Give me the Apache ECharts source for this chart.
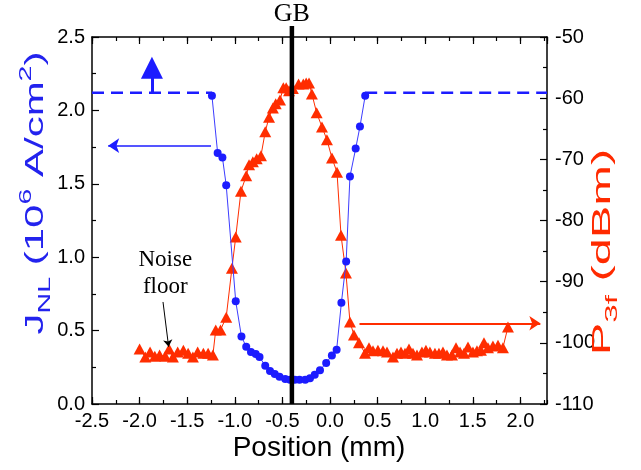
<!DOCTYPE html>
<html>
<head>
<meta charset="utf-8">
<script src="https://cdn.jsdelivr.net/npm/echarts@6/dist/echarts.min.js"></script>
<style>
  html, body { margin: 0; padding: 0; background: #ffffff; }
  #chart { width: 641px; height: 470px; }
</style>
</head>
<body>
<div id="chart"></div>
<script>
// Nonlinear current density J_NL (left axis, 10^6 A/cm^2) and third-harmonic
// power P_3f (right axis, dBm) measured across a grain boundary (GB).

// J_NL scan: position (mm) and current density
const jPositions = [
  -1.24, -1.18, -1.13, -1.09, -0.99, -0.93, -0.88, -0.83, -0.78, -0.74,
  -0.68, -0.63, -0.58, -0.53, -0.47, -0.42, -0.37, -0.32, -0.26, -0.21,
  -0.16, -0.105, -0.04, 0.02, 0.07, 0.12, 0.17, 0.21, 0.27, 0.315, 0.37
];
const jValues = [
  2.10, 1.71, 1.68, 1.49, 0.70, 0.46, 0.39, 0.355, 0.34, 0.32,
  0.26, 0.225, 0.205, 0.185, 0.17, 0.165, 0.165, 0.165, 0.165, 0.175,
  0.20, 0.23, 0.28, 0.33, 0.37, 0.69, 0.97, 1.55, 1.74, 1.89, 2.10
];

// P_3f scan: position (mm) and power (dBm)
const pPositions = [
  -2.00, -1.94, -1.89, -1.84, -1.79, -1.73, -1.69, -1.65, -1.60, -1.54,
  -1.49, -1.44, -1.39, -1.33, -1.28, -1.23, -1.20, -1.15, -1.09, -1.03,
  -0.99, -0.935, -0.88, -0.85, -0.81, -0.77, -0.725, -0.68, -0.64, -0.60,
  -0.57, -0.525, -0.49, -0.46, -0.43, -0.39, -0.33, -0.28, -0.25, -0.22,
  -0.19, -0.14, -0.084, -0.032, 0.021, 0.074, 0.116, 0.168, 0.21, 0.252,
  0.305, 0.368, 0.41, 0.452, 0.504, 0.557, 0.599, 0.662, 0.704, 0.746,
  0.788, 0.83, 0.872, 0.914, 0.966, 1.008, 1.05, 1.103, 1.145, 1.187,
  1.229, 1.282, 1.324, 1.366, 1.408, 1.45, 1.502, 1.544, 1.586, 1.618,
  1.66, 1.712, 1.765, 1.817, 1.87
];
const pValues = [
  -101.0, -102.3, -101.5, -102.2, -102.0, -102.2, -101.0, -102.3, -101.5, -101.2,
  -101.7, -102.3, -101.5, -101.7, -101.7, -102.0, -97.9, -97.9, -95.8, -87.8,
  -82.7, -75.2, -72.7, -70.9, -70.4, -69.9, -69.4, -65.5, -63.1, -61.6,
  -60.9, -60.3, -58.3, -58.3, -58.8, -58.4, -57.7, -57.7, -57.5, -57.5,
  -59.3, -62.4, -64.7, -66.8, -69.8, -72.1, -82.4, -88.6, -96.6, -98.7,
  -100.0, -101.7, -100.8, -101.3, -101.2, -101.3, -101.5, -102.3, -101.7, -101.5,
  -101.7, -101.0, -101.7, -102.0, -101.5, -101.2, -101.5, -101.7, -101.7, -101.5,
  -102.0, -102.0, -100.8, -101.5, -101.7, -100.7, -101.5, -101.3, -101.2, -100.0,
  -100.8, -100.5, -100.4, -100.8, -97.4
];

// Axis ranges
const xRange = [-2.5, 2.28];
const jRange = [0, 2.5];
const pRange = [-110, -50];

// Annotation values
const gbPosition = -0.4;          // grain boundary location (mm)
const jCeiling = 2.12;            // lower bound of J_NL outside the scan range
const jCeilingEnds = [-1.24, 0.37];
const upArrowX = -1.87;
const upArrowTop = 2.29;
const jArrow = { from: -1.25, to: -2.33, level: 1.76 };
const pArrow = { from: 0.31, to: 2.21, level: -96.8 };
const noiseArrow = { from: [-1.754, 0.695], to: [-1.695, 0.39] };
const noiseLabelAt = [-1.73, 0.886];

const BLUE = '#1c1cff';
const BLUE_LINE = '#3c3cff';
const RED = '#ff2d00';
const SANS = '"Liberation Sans", Arial, Helvetica, sans-serif';
const SERIF = '"Liberation Serif", "Times New Roman", serif';

const pairs = (xs, ys) => xs.map((x, i) => [x, ys[i]]);

function xAxisDef(position, step, tickLen, withLine, withLabels) {
  return {
    type: 'value', position: position, min: xRange[0], max: xRange[1], interval: step,
    axisLine: { show: withLine, onZero: false, lineStyle: { color: '#000', width: 1.5 } },
    axisTick: { show: true, inside: true, length: tickLen, lineStyle: { color: '#000', width: 1.2 } },
    axisLabel: {
      show: withLabels, showMaxLabel: false, margin: 7,
      fontFamily: SANS, fontSize: 20, color: '#000',
      formatter: v => v.toFixed(1)
    },
    splitLine: { show: false }
  };
}

function yAxisDef(position, range, step, digits, margin) {
  return {
    type: 'value', position: position, min: range[0], max: range[1], interval: step,
    axisLine: { show: true, onZero: false, lineStyle: { color: '#000', width: 1.5 } },
    axisTick: { show: true, inside: true, length: 7, lineStyle: { color: '#000', width: 1.2 } },
    minorTick: { show: true, splitNumber: 2, length: 4, lineStyle: { color: '#000', width: 1.2 } },
    axisLabel: {
      margin: margin, fontFamily: SANS, fontSize: 20, color: '#000',
      formatter: v => v.toFixed(digits)
    },
    splitLine: { show: false }
  };
}

function arrowSeries(yAxisIndex, lines) {
  return {
    type: 'line', data: [], yAxisIndex: yAxisIndex, silent: true,
    markLine: {
      silent: true, animation: false,
      label: { show: false },
      emphasis: { disabled: true },
      data: lines
    }
  };
}

const option = {
  animation: false,
  backgroundColor: '#ffffff',
  grid: { left: 92, right: 94, top: 37, bottom: 66, containLabel: false, outerBoundsMode: 'none' },
  xAxis: [
    xAxisDef('bottom', 0.5, 7, true, true),
    xAxisDef('bottom', 0.25, 4, false, false),
    xAxisDef('top', 0.5, 7, true, false),
    xAxisDef('top', 0.25, 4, false, false)
  ],
  yAxis: [
    yAxisDef('left', jRange, 0.5, 1, 7),
    yAxisDef('right', pRange, 10, 0, 8)
  ],
  series: [
    {
      name: 'P3f', type: 'line', yAxisIndex: 1, z: 2,
      data: pairs(pPositions, pValues),
      symbol: 'triangle', symbolSize: [12, 11],
      itemStyle: { color: RED },
      lineStyle: { color: RED, width: 1 }
    },
    {
      name: 'JNL', type: 'line', yAxisIndex: 0, z: 3,
      data: pairs(jPositions, jValues),
      symbol: 'circle', symbolSize: 8,
      itemStyle: { color: BLUE },
      lineStyle: { color: BLUE_LINE, width: 1 }
    },
    {
      type: 'line', z: 3, symbol: 'none',
      data: [[xRange[0], jCeiling], [jCeilingEnds[0], jCeiling]],
      lineStyle: { color: BLUE, width: 2.5, type: [12, 7] }
    },
    {
      type: 'line', z: 3, symbol: 'none',
      data: [[jCeilingEnds[1], jCeiling], [xRange[1], jCeiling]],
      lineStyle: { color: BLUE, width: 2.5, type: [12, 7] }
    },
    // upward arrow on the J_NL ceiling
    arrowSeries(0, [[
      { coord: [upArrowX, jCeiling], symbol: 'none',
        lineStyle: { color: BLUE, width: 3, type: 'solid' } },
      { coord: [upArrowX, upArrowTop], symbol: 'triangle', symbolSize: 22 }
    ]]),
    // arrow pointing to the J_NL axis
    arrowSeries(0, [[
      { coord: [jArrow.from, jArrow.level], symbol: 'none',
        lineStyle: { color: BLUE, width: 1.6, type: 'solid' } },
      { coord: [jArrow.to, jArrow.level], symbol: 'arrow', symbolSize: 11 }
    ]]),
    // arrow pointing to the P_3f axis
    arrowSeries(1, [[
      { coord: [pArrow.from, pArrow.level], symbol: 'none',
        lineStyle: { color: RED, width: 2, type: 'solid' } },
      { coord: [pArrow.to, pArrow.level], symbol: 'arrow', symbolSize: 11 }
    ]]),
    // noise floor pointer
    arrowSeries(0, [[
      { coord: noiseArrow.from, symbol: 'none',
        lineStyle: { color: '#000', width: 1, type: 'solid' } },
      { coord: noiseArrow.to, symbol: 'arrow', symbolSize: 7 }
    ]])
  ]
};

const chart = echarts.init(document.getElementById('chart'), null, { renderer: 'canvas', width: 641, height: 470 });
chart.setOption(option);

const toPx = pt => chart.convertToPixel({ gridIndex: 0 }, pt);
const gbTopPx = toPx([gbPosition, jRange[1]]);
const gbBottomPx = toPx([gbPosition, jRange[0]]);
const noisePx = toPx(noiseLabelAt);

const titleRich = (size, subSize) => ({
  b: { fontSize: size, fontFamily: SANS, lineHeight: 36 },
  sub: { fontSize: subSize, fontFamily: SANS, lineHeight: subSize, verticalAlign: 'bottom' },
  sup: { fontSize: subSize, fontFamily: SANS, lineHeight: subSize, verticalAlign: 'top' }
});

chart.setOption({
  graphic: [
    {
      type: 'line', z: 100, silent: true,
      shape: { x1: gbTopPx[0], y1: gbTopPx[1] - 11, x2: gbBottomPx[0], y2: gbBottomPx[1] },
      style: { stroke: '#000', lineWidth: 4.5 }
    },
    {
      type: 'text', z: 100, silent: true, x: gbTopPx[0], y: 14,
      style: { text: 'GB', font: '26px ' + SERIF, fill: '#000', align: 'center', verticalAlign: 'middle' }
    },
    {
      type: 'text', z: 100, silent: true, x: noisePx[0], y: noisePx[1],
      style: {
        text: 'Noise\nfloor', font: '23px ' + SERIF, lineHeight: 27,
        fill: '#000', align: 'center', verticalAlign: 'middle'
      }
    },
    {
      type: 'text', z: 100, silent: true, x: 319, y: 448,
      style: { text: 'Position (mm)', font: '28px ' + SANS, fill: '#000', align: 'center', verticalAlign: 'middle' }
    },
    {
      type: 'text', z: 100, silent: true, x: 36, y: 193, rotation: Math.PI / 2, scaleX: 1.68,
      style: {
        text: '{b|J}{sub|NL}{b| (10}{sup|6}{b| A/cm}{sup|2}{b|)}',
        rich: titleRich(25, 17), fill: '#2323ee', align: 'center', verticalAlign: 'middle'
      }
    },
    {
      type: 'text', z: 100, silent: true, x: 603, y: 252, rotation: Math.PI / 2, scaleX: 1.95,
      style: {
        text: '{b|P}{sub|3f}{b| (dBm)}',
        rich: titleRich(25, 17), fill: '#ff2a00', align: 'center', verticalAlign: 'middle'
      }
    }
  ]
});
</script>
</body>
</html>
